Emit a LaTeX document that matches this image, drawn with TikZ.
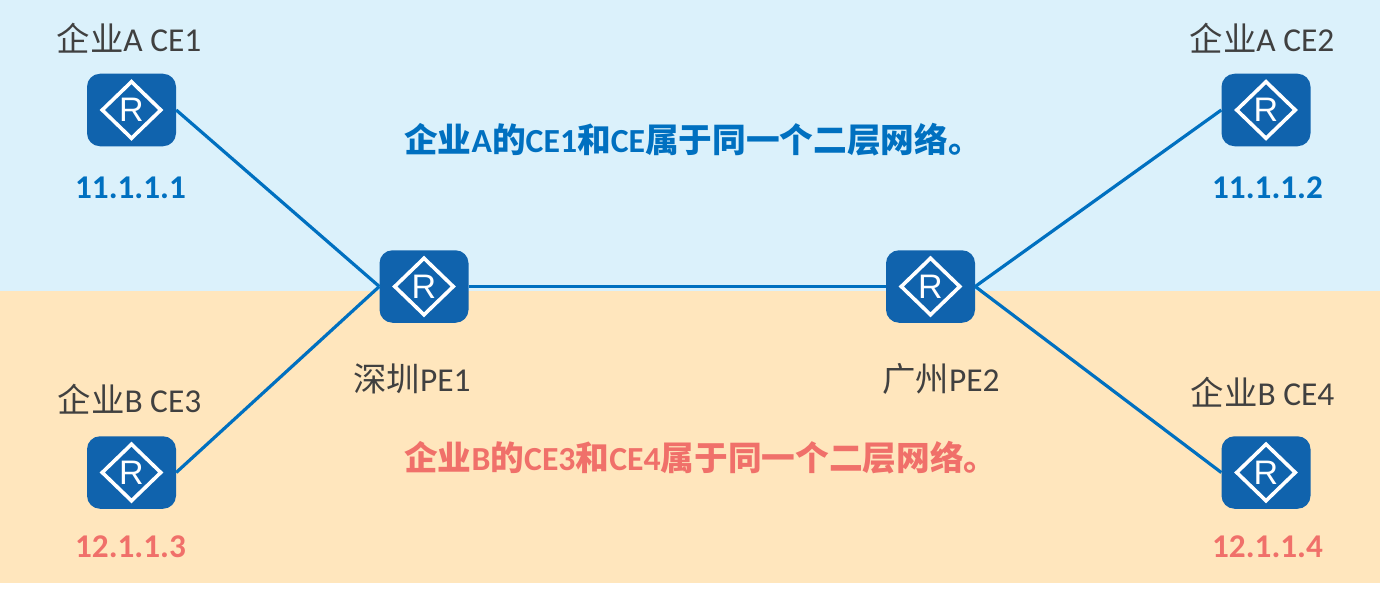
\documentclass[tikz,border=0pt]{standalone}
\usepackage{fontspec}
\setmainfont{Carlito}
\newfontfamily\cjk{Noto Sans CJK SC}
\usetikzlibrary{shapes.geometric}
\definecolor{bgblue}{HTML}{DBF1FB}
\definecolor{bgorange}{HTML}{FFE6BD}
\definecolor{rtr}{HTML}{1063AD}
\definecolor{lnk}{HTML}{0070C0}
\definecolor{redt}{HTML}{F0706A}
\definecolor{txt}{HTML}{404040}
\newfontfamily\rfont{Liberation Sans}
\tikzset{
  router/.style={draw=none,fill=rtr,rounded corners=13pt,minimum width=89pt,minimum height=72.5pt,inner sep=0pt},
  rdiamond/.style={diamond,draw=white,line width=3.6pt,aspect=1,minimum width=60pt,minimum height=58pt,inner sep=0pt},
  rletter/.style={text=white,inner sep=0pt,font=\fontsize{34}{34}\rfont},
  link/.style={draw=lnk,line width=3.2pt},
  devname/.style={text=txt,inner sep=0pt,anchor=base,font=\fontsize{33.4}{33.4}\selectfont},
  addr/.style={inner sep=0pt,anchor=base,font=\fontsize{33.2}{33.2}\selectfont\bfseries},
  headline/.style={inner sep=0pt,anchor=base west,font=\fontsize{33.7}{33.7}\selectfont\bfseries},
}
\newcommand{\rtrnode}[3]{%
  \node[router] (#1) at (#2,#3) {};
  \node[rdiamond] (#1d) at (#1.center) {};
  \node[rletter] (#1r) at (#1.center) {R};
}
\begin{document}
\begin{tikzpicture}[x=1pt,y=-1pt]
\useasboundingbox (0,0) rectangle (1380,591);
\fill[white] (0,0) rectangle (1380,591);
\fill[bgblue] (0,0) rectangle (1380,291);
\fill[bgorange] (0,291) rectangle (1380,583);
\rtrnode{ce1}{131.5}{110}
\rtrnode{ce2}{1266}{110}
\rtrnode{ce3}{131.5}{472.5}
\rtrnode{ce4}{1266}{472.5}
\rtrnode{pe1}{424}{286.5}
\rtrnode{pe2}{930.5}{286.5}
\draw[link] (ce1.east) -- (pe1.west);
\draw[link] (ce3.east) -- (pe1.west);
\draw[link] (pe1.east) -- (pe2.west);
\draw[link] (pe2.east) -- (ce2.west);
\draw[link] (pe2.east) -- (ce4.west);
\node[devname] (n1) at (129,51.5) {{\cjk 企业}A CE1};
\node[devname] (n2) at (1262,51.5) {{\cjk 企业}A CE2};
\node[devname] (n3) at (129.5,412.5) {{\cjk 企业}B CE3};
\node[devname] (n4) at (1262.5,405.5) {{\cjk 企业}B CE4};
\node[devname] (n5) at (412,391.5) {{\cjk 深圳}PE1};
\node[devname] (n6) at (941,391.5) {{\cjk 广州}PE2};
\node[addr,text=lnk] (a1) at (130.5,198) {11.1.1.1};
\node[addr,text=lnk] (a2) at (1267.5,198) {11.1.1.2};
\node[addr,text=redt] (a3) at (130.5,557) {12.1.1.3};
\node[addr,text=redt] (a4) at (1267.5,557) {12.1.1.4};
\node[headline,text=lnk] (h1) at (404,152) {{\cjk 企业}A{\cjk 的}CE1{\cjk 和}CE{\cjk 属于同一个二层网络。}};
\node[headline,text=redt] (h2) at (404,470.5) {{\cjk 企业}B{\cjk 的}CE3{\cjk 和}CE4{\cjk 属于同一个二层网络。}};
\end{tikzpicture}
\end{document}
